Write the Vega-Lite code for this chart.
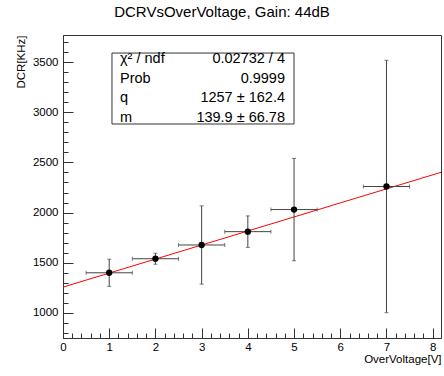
{
  "$schema": "https://vega.github.io/schema/vega-lite/v6.json",
  "width": 378,
  "height": 303,
  "autosize": {"type": "none"},
  "padding": {"left": 63, "top": 35, "right": 3, "bottom": 38},
  "config": {
    "font": "Liberation Sans",
    "view": {"stroke": "#333", "strokeWidth": 1},
    "axis": {"grid": false, "labelFlush": false, "labelOverlap": false, "domainColor": "#333", "tickColor": "#333", "labelColor": "#000", "titleColor": "#000", "labelFontSize": 11.5, "titleFontSize": 11.5, "titleFontWeight": "normal", "labelFont": "Liberation Sans", "titleFont": "Liberation Sans"}
  },
  "title": {"text": "DCRVsOverVoltage, Gain: 44dB", "fontSize": 15, "fontWeight": "normal", "font": "Liberation Sans", "color": "#000", "anchor": "middle", "dx": -30, "offset": 15},
  "datasets": {
    "pts": [
      {"v": 1, "dcr": 1400, "vlo": 0.5, "vhi": 1.5, "dlo": 1265, "dhi": 1535},
      {"v": 2, "dcr": 1540, "vlo": 1.5, "vhi": 2.5, "dlo": 1485, "dhi": 1595},
      {"v": 3, "dcr": 1677, "vlo": 2.5, "vhi": 3.5, "dlo": 1287, "dhi": 2067},
      {"v": 4, "dcr": 1810, "vlo": 3.5, "vhi": 4.5, "dlo": 1653, "dhi": 1967},
      {"v": 5, "dcr": 2030, "vlo": 4.5, "vhi": 5.5, "dlo": 1520, "dhi": 2540},
      {"v": 7, "dcr": 2260, "vlo": 6.5, "vhi": 7.5, "dlo": 1002, "dhi": 3518}
    ],
    "fit": [{"v": 0, "dcr": 1257}, {"v": 8.18, "dcr": 2401.4}],
    "stats": [{"names": ["χ² / ndf", "Prob", "q", "m"], "vals": ["0.02732 / 4", "0.9999", "1257 ± 162.4", "139.9 ± 66.78"]}]
  },
  "layer": [
    {
      "data": {"name": "fit"},
      "mark": {"type": "line", "color": "#ff0000", "strokeWidth": 1},
      "encoding": {
        "x": {"field": "v", "type": "quantitative", "scale": {"domain": [0, 8.18], "nice": false, "zero": false},
          "axis": {"orient": "bottom", "values": [0, 1, 2, 3, 4, 5, 6, 7, 8], "format": "d", "tickSize": -10, "labelPadding": 13, "title": "OverVoltage[V]", "titleX": 378, "titleY": 24, "titleAlign": "right", "titleBaseline": "alphabetic", "titleAnchor": null}},
        "y": {"field": "dcr", "type": "quantitative", "scale": {"domain": [750, 3770], "nice": false, "zero": false},
          "axis": {"orient": "left", "values": [1000, 1500, 2000, 2500, 3000, 3500], "format": "d", "tickSize": -10, "labelPadding": 15, "title": "DCR[KHz]", "titleX": -42, "titleY": 0, "titleAngle": 270, "titleAlign": "right", "titleBaseline": "middle", "titleAnchor": null}}
      }
    },
    {
      "data": {"name": "pts"},
      "mark": {"type": "rule", "color": "#444", "strokeWidth": 1},
      "encoding": {
        "x": {"field": "v", "type": "quantitative", "axis": null},
        "y": {"field": "dlo", "type": "quantitative",
          "axis": {"orient": "left", "values": [800, 900, 1000, 1100, 1200, 1300, 1400, 1500, 1600, 1700, 1800, 1900, 2000, 2100, 2200, 2300, 2400, 2500, 2600, 2700, 2800, 2900, 3000, 3100, 3200, 3300, 3400, 3500, 3600, 3700], "tickSize": -5, "labels": false, "domain": false, "title": null}},
        "y2": {"field": "dhi"}
      }
    },
    {
      "data": {"name": "pts"},
      "mark": {"type": "rule", "color": "#444", "strokeWidth": 1},
      "encoding": {
        "x": {"field": "vlo", "type": "quantitative",
          "axis": {"orient": "bottom", "values": [0.2, 0.4, 0.6, 0.8, 1, 1.2, 1.4, 1.6, 1.8, 2, 2.2, 2.4, 2.6, 2.8, 3, 3.2, 3.4, 3.6, 3.8, 4, 4.2, 4.4, 4.6, 4.8, 5, 5.2, 5.4, 5.6, 5.8, 6, 6.2, 6.4, 6.6, 6.8, 7, 7.2, 7.4, 7.6, 7.8, 8], "tickSize": -5, "labels": false, "domain": false, "title": null}},
        "x2": {"field": "vhi"},
        "y": {"field": "dcr", "type": "quantitative", "axis": null}
      }
    },
    {
      "data": {"name": "pts"},
      "mark": {"type": "tick", "orient": "horizontal", "size": 4, "thickness": 1, "color": "#444"},
      "encoding": {
        "x": {"field": "v", "type": "quantitative", "axis": null},
        "y": {"field": "dlo", "type": "quantitative", "axis": null}
      }
    },
    {
      "data": {"name": "pts"},
      "mark": {"type": "tick", "orient": "horizontal", "size": 4, "thickness": 1, "color": "#444"},
      "encoding": {
        "x": {"field": "v", "type": "quantitative", "axis": null},
        "y": {"field": "dhi", "type": "quantitative", "axis": null}
      }
    },
    {
      "data": {"name": "pts"},
      "mark": {"type": "tick", "orient": "vertical", "size": 4, "thickness": 1, "color": "#444"},
      "encoding": {
        "x": {"field": "vlo", "type": "quantitative", "axis": null},
        "y": {"field": "dcr", "type": "quantitative", "axis": null}
      }
    },
    {
      "data": {"name": "pts"},
      "mark": {"type": "tick", "orient": "vertical", "size": 4, "thickness": 1, "color": "#444"},
      "encoding": {
        "x": {"field": "vhi", "type": "quantitative", "axis": null},
        "y": {"field": "dcr", "type": "quantitative", "axis": null}
      }
    },
    {
      "data": {"name": "pts"},
      "mark": {"type": "point", "filled": true, "shape": "circle", "size": 40, "color": "#000", "opacity": 1},
      "encoding": {
        "x": {"field": "v", "type": "quantitative", "axis": null},
        "y": {"field": "dcr", "type": "quantitative", "axis": null}
      }
    },
    {
      "data": {"name": "stats"},
      "mark": {"type": "rect", "fill": "#fff", "stroke": "#333", "strokeWidth": 1},
      "encoding": {
        "x": {"datum": 1.06, "type": "quantitative", "axis": null},
        "x2": {"datum": 4.999},
        "y": {"datum": 3590, "type": "quantitative", "axis": null},
        "y2": {"datum": 2883}
      }
    },
    {
      "data": {"name": "stats"},
      "mark": {"type": "text", "align": "left", "baseline": "middle", "fontSize": 14.5, "lineHeight": 19.9, "color": "#000", "font": "Liberation Sans"},
      "encoding": {
        "x": {"datum": 1.233, "type": "quantitative", "axis": null},
        "y": {"datum": 3534, "type": "quantitative", "axis": null},
        "text": {"field": "names"}
      }
    },
    {
      "data": {"name": "stats"},
      "mark": {"type": "text", "align": "right", "baseline": "middle", "fontSize": 14.5, "lineHeight": 19.9, "color": "#000", "font": "Liberation Sans"},
      "encoding": {
        "x": {"datum": 4.804, "type": "quantitative", "axis": null},
        "y": {"datum": 3534, "type": "quantitative", "axis": null},
        "text": {"field": "vals"}
      }
    }
  ],
  "resolve": {"axis": {"x": "independent", "y": "independent"}}
}
